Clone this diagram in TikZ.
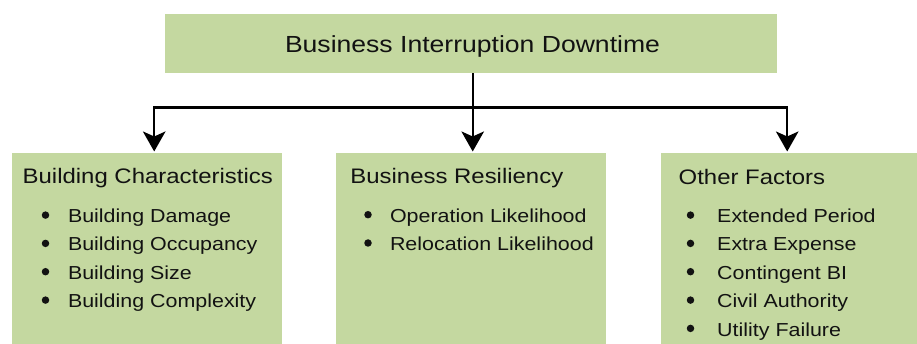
\documentclass[tikz,border=0pt]{standalone}
\usepackage{fontspec}
\setmainfont{Liberation Sans}[FakeStretch=1.14]
\usetikzlibrary{arrows.meta}
\definecolor{boxgreen}{HTML}{C4D8A0}
\definecolor{ink}{HTML}{121212}
\begin{document}
\begin{tikzpicture}[x=1pt,y=-1pt,
  >={Stealth[length=20pt,width=22.5pt,inset=5pt]},
  box/.style={fill=boxgreen, draw=none, inner sep=0pt, anchor=north west},
  conn/.style={line width=2.4pt, draw=black},
  toptxt/.style={inner sep=0pt, anchor=base, text=ink, font=\fontsize{23.3}{28}\selectfont},
  ttl/.style={inner sep=0pt, anchor=base west, text=ink, font=\fontsize{21}{25}\selectfont},
  item/.style={inner sep=0pt, anchor=base west, text=ink, font=\fontsize{18.8}{23}\selectfont},
  bul/.style={circle, fill=ink, inner sep=0pt, minimum size=7.5pt, yshift=7.6pt}]
\path[use as bounding box] (0,0) rectangle (917,344);
\clip (0,0) rectangle (917,344);
% boxes
\node[box, minimum width=612pt, minimum height=59pt] (top) at (165,14) {};
\node[box, minimum width=270pt, minimum height=200pt] (lb) at (12,153) {};
\node[box, minimum width=270pt, minimum height=200pt] (mb) at (336,153) {};
\node[box, minimum width=270pt, minimum height=200pt] (rb) at (661,153) {};
% connectors
\coordinate (j) at ([xshift=1.5pt]top.south |- 0,107.5);
\draw[conn, <->, shorten <=1.5pt, shorten >=1.5pt, line join=miter]
  ([xshift=7pt]lb.north) |- (j) -| ([xshift=-9pt]rb.north);
\draw[conn, ->, shorten >=1.5pt] ([xshift=1.5pt]top.south) -- (j |- mb.north);
% texts
\node[toptxt] (t0) at (472.5,52.7) {Business Interruption Downtime};
\node[ttl] (lt) at (22.5,184) {Building Characteristics};
\node[ttl] (mt) at (350.2,184) {Business Resiliency};
\node[ttl] (rt) at (678.5,184.5) {Other Factors};
% left items
\node[bul] (lb1) at (45.5,222.7) {};
\node[bul] (lb2) at (45.5,251) {};
\node[bul] (lb3) at (45.5,279.3) {};
\node[bul] (lb4) at (45.5,307.7) {};
\node[item] (li1) at (67.8,222.7) {Building Damage};
\node[item] (li2) at (67.8,251) {Building Occupancy};
\node[item] (li3) at (67.8,279.3) {Building Size};
\node[item] (li4) at (67.8,307.7) {Building Complexity};
% middle items
\node[bul] (mb1) at (368,222.3) {};
\node[bul] (mb2) at (368,250.6) {};
\node[item] (mi1) at (389.8,222.3) {Operation Likelihood};
\node[item] (mi2) at (389.8,250.6) {Relocation Likelihood};
% right items
\node[bul] (rb1) at (690.5,222.7) {};
\node[bul] (rb2) at (690.5,251) {};
\node[bul] (rb3) at (690.5,279.3) {};
\node[bul] (rb4) at (690.5,307.7) {};
\node[bul] (rb5) at (690.5,336) {};
\node[item] (ri1) at (717,222.7) {Extended Period};
\node[item] (ri2) at (717,251) {Extra Expense};
\node[item] (ri3) at (717,279.3) {Contingent BI};
\node[item] (ri4) at (717,307.7) {Civil Authority};
\node[item] (ri5) at (717,336) {Utility Failure};
\end{tikzpicture}
\end{document}
